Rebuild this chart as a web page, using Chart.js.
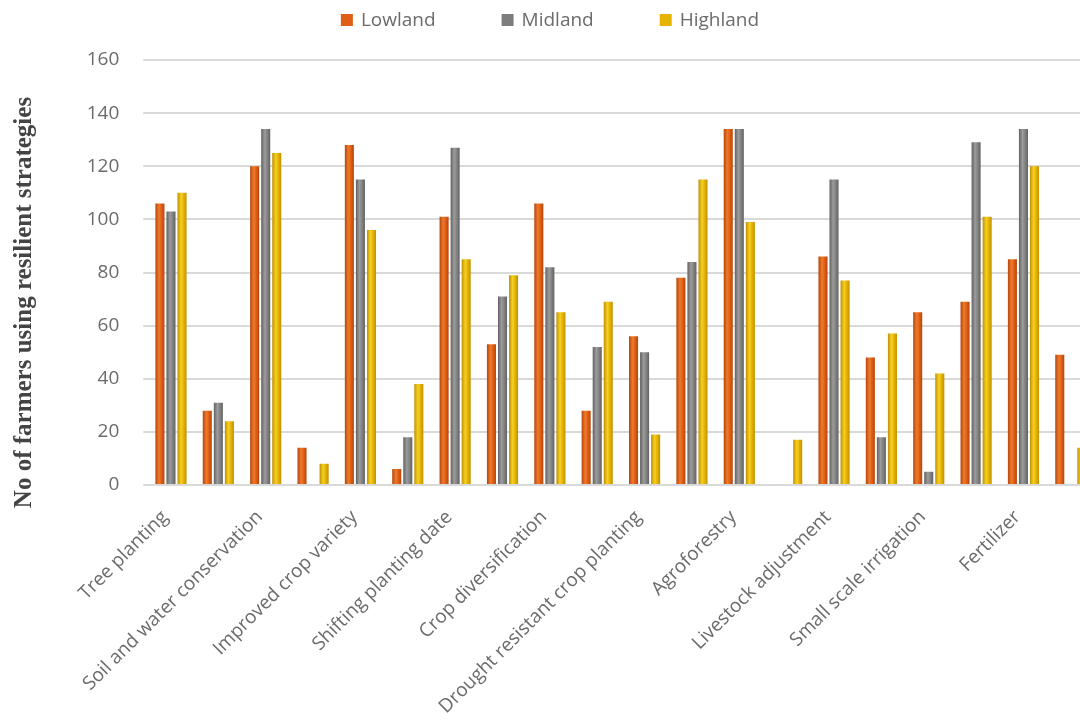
<!DOCTYPE html>
<html>
<head>
<meta charset="utf-8">
<script src="https://cdn.jsdelivr.net/npm/chart.js@4.4.1/dist/chart.umd.min.js"></script>
<style>
  html, body { margin: 0; padding: 0; background: #fff; overflow: hidden; }
  #wrap { width: 1100px; height: 721px; }
</style>
</head>
<body>
<div id="wrap"><canvas id="chart" width="1100" height="721"></canvas></div>
<script>
// Categories (only every other one carries a visible label in the source figure)
const categories = [
    'Tree planting', '',
    'Soil and water conservation', '',
    'Improved crop variety', '',
    'Shifting planting date', '',
    'Crop diversification', '',
    'Drought resistant crop planting', '',
    'Agroforestry', '',
    'Livestock adjustment', '',
    'Small scale irrigation', '',
    'Fertilizer', ''
];

const lowland  = [106, 28, 120, 14, 128, 6, 101, 53, 106, 28, 56, 78, 134, 0, 86, 48, 65, 69, 85, 49];
const midland  = [103, 31, 134, 0, 115, 18, 127, 71, 82, 52, 50, 84, 134, 0, 115, 18, 5, 129, 134, 0];
const highland = [110, 24, 125, 8, 96, 38, 85, 79, 65, 69, 19, 115, 99, 17, 77, 57, 42, 101, 120, 14];

const yTicks = [0, 20, 40, 60, 80, 100, 120, 140, 160];

const CAT_PCT = 0.7;
const BAR_PCT = 0.82;
const FONT = '"Open Sans", "DejaVu Sans", sans-serif';
const TEXT_GRAY = '#6b6b6b';
const GRID = '#d9d9d9';

// cylinder-ish fill: darker edges, lighter middle
function barFill(base, light, dark) {
    return (context) => {
        const chart = context.chart;
        const xs = chart.scales.x;
        if (context.type !== 'data' || !xs || !chart.chartArea) return base;
        const slot = (xs.width / categories.length) * CAT_PCT / 3;
        const cx = xs.getPixelForValue(context.dataIndex) + (context.datasetIndex - 1) * slot;
        const half = slot * BAR_PCT / 2;
        const g = chart.ctx.createLinearGradient(cx - half, 0, cx + half, 0);
        g.addColorStop(0, dark);
        g.addColorStop(0.4, light);
        g.addColorStop(0.7, base);
        g.addColorStop(1, dark);
        return g;
    };
}

const extrasPlugin = {
    id: 'extras',
    beforeDraw: (chart) => {
        const ctx = chart.ctx;
        ctx.save();
        ctx.fillStyle = '#fff';
        ctx.fillRect(0, 0, chart.width, chart.height);
        ctx.restore();
    },
    afterDraw: (chart) => {
        const ctx = chart.ctx;
        const area = chart.chartArea;
        ctx.save();

        // legend, centred across the top
        ctx.font = '19px ' + FONT;
        ctx.textBaseline = 'middle';
        ctx.textAlign = 'left';
        const box = 12, gapText = 8, gapItem = 66;
        const items = chart.data.datasets.map(ds => ({
            label: ds.label,
            color: ds.legendColor,
            w: box + gapText + ctx.measureText(ds.label).width
        }));
        const total = items.reduce((s, it) => s + it.w, 0) + gapItem * (items.length - 1);
        let x = chart.width / 2 - total / 2;
        items.forEach(it => {
            ctx.fillStyle = it.color;
            ctx.fillRect(x, 14, box, box);
            ctx.fillStyle = TEXT_GRAY;
            ctx.fillText(it.label, x + box + gapText, 21);
            x += it.w + gapItem;
        });

        // y axis title (serif, bold)
        ctx.translate(31, area.top + (area.bottom - area.top) / 2 + 30);
        ctx.rotate(-Math.PI / 2);
        ctx.font = 'bold 25px "Liberation Serif", "Times New Roman", serif';
        ctx.fillStyle = '#444';
        ctx.textAlign = 'center';
        ctx.textBaseline = 'alphabetic';
        ctx.fillText('No of farmers using resilient strategies', 0, 0);
        ctx.restore();
    }
};

new Chart(document.getElementById('chart').getContext('2d'), {
    type: 'bar',
    data: {
        labels: categories,
        datasets: [
            {
                label: 'Lowland',
                data: lowland,
                legendColor: '#df5f17',
                backgroundColor: barFill('#dc5c14', '#f07a2c', '#b4460c')
            },
            {
                label: 'Midland',
                data: midland,
                legendColor: '#7d7d7d',
                backgroundColor: barFill('#808080', '#9c9c9c', '#626262')
            },
            {
                label: 'Highland',
                data: highland,
                legendColor: '#e6b400',
                backgroundColor: barFill('#e3b000', '#f6d024', '#bf9000')
            }
        ]
    },
    options: {
        responsive: false,
        animation: false,
        categoryPercentage: CAT_PCT,
        barPercentage: BAR_PCT,
        layout: {
            padding: { top: 60, right: 5.5, bottom: 0, left: 0 }
        },
        plugins: {
            legend: { display: false },
            tooltip: { enabled: false }
        },
        scales: {
            x: {
                grid: { display: false, drawTicks: false },
                border: { display: true, color: GRID, width: 2 },
                ticks: {
                    autoSkip: false,
                    minRotation: 45,
                    maxRotation: 45,
                    padding: 21,
                    labelOffset: -6,
                    color: TEXT_GRAY,
                    font: { family: FONT, size: 19 }
                },
                afterFit: (scale) => {
                    scale.height = 236;
                    scale.paddingLeft = 0;
                    scale.paddingRight = 0;
                }
            },
            y: {
                min: 0,
                max: 160,
                grid: { color: GRID, lineWidth: 2, tickLength: 4, tickColor: GRID },
                border: { display: false },
                afterBuildTicks: (scale) => { scale.ticks = yTicks.map(v => ({ value: v })); },
                ticks: {
                    padding: 24,
                    color: TEXT_GRAY,
                    font: { family: FONT, size: 19 }
                },
                afterFit: (scale) => { scale.width = 147.3; }
            }
        }
    },
    plugins: [extrasPlugin]
});
</script>
</body>
</html>
